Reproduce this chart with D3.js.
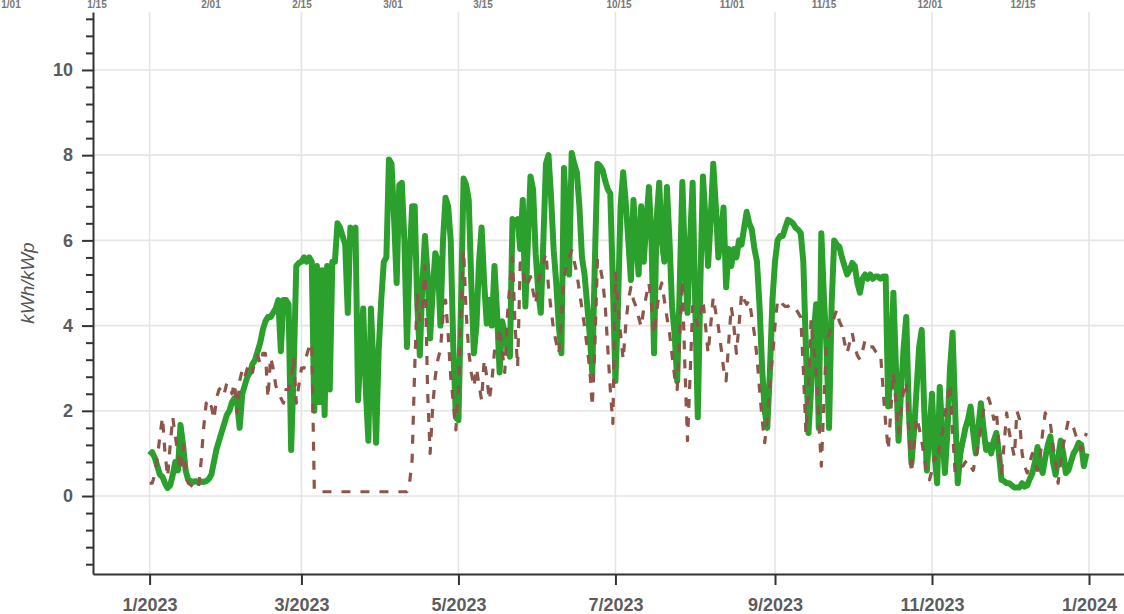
<!DOCTYPE html>
<html>
<head>
<meta charset="utf-8">
<script src="https://cdn.jsdelivr.net/npm/d3@7"></script>
<style>
  body { margin: 0; background: #fff; }
  svg { display: block; }
</style>
</head>
<body>
<div class="yieldChart"></div>
<script>
// daily specific yield, one value per day from 1 Jan 2023
const firstDay = "2023-01-01"

const greenSeries = [
  // jan
  0.96,1.03,0.9,0.7,0.5,0.45,0.3,0.19,0.25,0.5,0.8,0.6,1.67,1.2,0.6,0.38,0.35,0.33,0.35,0.32,0.34,0.33,0.35,0.4,0.5,0.8,1.1,1.3,1.5,1.7,1.9,
  // feb
  2.0,2.2,2.3,2.2,1.6,2.4,2.6,2.8,2.9,3.1,3.2,3.4,3.6,3.9,4.1,4.2,4.2,4.3,4.4,4.6,3.4,4.6,4.6,4.5,1.08,3.0,5.4,5.47,
  // mar
  5.5,5.6,5.5,5.6,5.5,2.0,5.4,2.2,5.3,1.9,5.4,2.5,5.5,5.5,6.4,6.3,6.1,5.9,4.3,6.3,6.2,6.3,2.25,3.5,4.4,2.5,1.3,4.4,3.0,1.25,3.4,
  // apr
  4.6,5.5,5.6,7.9,7.8,6.5,5.0,7.3,7.35,6.0,3.5,5.5,6.8,6.8,4.5,3.3,5.0,6.1,5.2,3.7,4.8,5.7,5.5,4.0,6.0,7.0,6.8,6.0,3.5,1.85,
  // may
  1.78,4.5,7.45,7.3,6.95,5.0,3.35,4.0,5.5,6.3,5.0,4.05,4.6,4.0,5.4,4.3,2.9,4.1,3.8,3.5,3.27,6.5,6.4,6.5,5.8,6.95,4.45,6.0,7.5,7.2,5.7,
  // jun
  4.8,4.3,6.0,7.8,8.0,7.0,5.77,5.0,4.0,3.35,7.7,6.5,5.2,8.05,7.8,7.6,6.8,5.6,5.2,4.5,3.8,2.9,5.5,7.8,7.75,7.65,7.4,7.2,7.1,5.0,
  // jul
  2.7,4.5,6.8,7.6,6.9,6.0,5.07,6.95,6.0,5.2,6.8,5.5,6.4,7.25,6.0,3.35,6.5,7.35,6.0,5.5,7.25,6.0,4.45,3.8,2.7,5.0,7.37,5.5,4.3,6.0,7.35,
  // aug
  4.5,1.85,5.0,7.5,6.5,5.4,6.5,7.8,6.8,5.6,6.2,6.77,4.9,5.8,5.4,5.8,5.6,6.0,5.9,6.3,6.67,6.4,6.25,5.8,5.5,4.45,3.0,2.0,1.6,2.9,4.6,
  // sep
  5.5,6.0,6.1,6.1,6.3,6.48,6.45,6.4,6.3,6.25,6.17,5.5,3.5,1.48,2.5,3.8,4.5,1.6,6.17,4.67,3.5,1.6,4.5,6.0,5.9,5.85,5.6,5.4,5.2,5.3,
  // oct
  5.47,5.4,5.0,4.77,5.1,5.2,5.1,5.2,5.1,5.15,5.15,5.1,5.15,5.15,2.1,3.0,4.77,3.0,1.3,2.5,3.5,4.2,2.0,0.77,1.5,2.5,3.5,3.9,2.0,0.6,1.5,
  // nov
  2.4,1.0,0.3,2.56,1.5,0.54,1.5,3.0,3.83,2.0,0.3,1.0,1.3,1.6,1.8,2.1,1.5,1.0,1.6,2.18,1.6,1.08,1.2,1.0,1.3,1.48,1.0,0.38,0.35,0.3,
  // dec
  0.3,0.25,0.2,0.2,0.2,0.3,0.22,0.25,0.4,0.54,0.8,1.15,0.7,0.54,0.9,1.2,1.4,0.8,0.5,0.9,1.3,1.0,0.54,0.6,0.8,1.0,1.1,1.25,1.2,0.7,1.0
]

const brownSeries = [
  // jan
  0.3,0.3,0.5,0.9,1.4,1.85,1.0,0.45,1.2,1.85,1.4,1.0,0.6,1.2,0.6,0.3,0.26,0.2,0.14,0.2,0.8,1.6,2.18,2.0,2.1,1.8,2.3,2.5,2.56,2.4,2.65,
  // feb
  2.6,2.4,2.65,1.95,2.7,2.96,2.8,3.0,3.1,2.9,3.2,3.3,3.1,3.35,3.35,2.3,3.26,3.0,2.6,2.4,2.3,2.18,2.5,2.5,2.7,3.26,2.18,2.6,
  // mar
  3.0,3.0,3.3,3.5,3.6,0.14,0.1,0.1,0.1,0.1,0.1,0.1,0.1,0.1,0.1,0.1,0.1,0.1,0.1,0.1,0.1,0.1,0.1,0.1,0.1,0.1,0.1,0.1,0.1,0.1,0.1,
  // apr
  0.1,0.1,0.1,0.1,0.1,0.1,0.1,0.1,0.1,0.1,0.1,0.3,0.85,3.0,4.77,4.13,4.5,5.4,2.5,1.0,2.1,2.8,3.2,3.43,4.2,4.6,3.8,2.8,2.2,1.55,
  // may
  2.5,4.3,5.77,4.3,3.4,2.9,2.56,3.0,2.6,2.25,3.2,2.8,2.25,2.7,3.4,3.6,3.97,3.4,2.9,4.2,5.0,5.6,4.0,3.03,5.47,5.3,4.9,5.0,5.15,4.8,4.5,
  // jun
  5.0,5.3,5.5,5.7,4.9,4.37,3.9,3.6,3.35,4.2,5.15,5.4,5.6,5.77,5.5,5.23,4.8,4.4,3.97,3.5,3.0,2.1,3.5,5.54,5.4,5.07,4.5,3.5,2.5,1.7,
  // jul
  5.23,4.5,3.8,3.2,4.0,4.6,4.9,4.6,4.45,4.2,3.97,4.4,4.7,5.0,4.5,3.8,4.3,4.8,5.0,4.6,4.2,3.83,3.3,2.8,2.5,3.8,5.07,3.0,1.3,2.8,4.45,
  // aug
  4.2,4.0,4.3,4.6,4.0,3.35,4.0,4.67,4.3,3.97,3.5,3.0,2.7,3.6,4.45,4.0,3.35,4.0,4.77,4.6,4.5,4.6,4.2,3.8,3.26,2.5,1.8,1.25,1.8,2.6,3.26,
  // sep
  4.0,4.6,4.6,4.5,4.45,4.45,4.5,4.45,4.4,4.3,4.2,3.0,1.48,2.5,4.13,3.5,2.9,1.8,0.7,2.2,3.66,3.8,3.97,4.2,4.37,4.1,3.97,3.6,3.35,3.6,
  // oct
  3.83,3.5,3.3,3.2,3.4,3.66,3.6,3.5,3.5,3.4,3.35,3.35,2.5,1.7,1.08,2.0,2.9,2.2,1.48,2.0,2.5,2.7,1.5,0.54,1.2,1.85,1.6,1.3,0.9,0.5,0.38,
  // nov
  0.6,0.92,0.8,1.2,1.48,1.9,2.3,2.65,1.5,0.54,0.6,0.7,0.7,0.8,0.85,0.7,0.6,0.9,1.2,1.6,2.0,2.2,2.3,2.1,1.8,2.0,1.2,0.54,1.2,1.95,
  // dec
  1.5,1.2,0.92,2.0,1.8,1.0,0.7,0.54,0.8,1.0,0.8,0.6,0.9,1.5,1.95,1.8,1.7,1.2,0.8,0.3,0.8,1.2,1.5,1.78,1.7,1.6,1.4,1.2,1.08,1.3,1.48
]

const xTickDates = ["2023-01-01","2023-03-01","2023-05-01","2023-07-01","2023-09-01","2023-11-01","2024-01-01"]
const yTickValues = [0, 2, 4, 6, 8, 10]
const yLabel = "kWh/kWp"

// stray labels along the top edge
const topLabels = ["1/01","1/15","2/01","2/15","3/01","3/15","10/15","11/01","11/15","12/01","12/15"]
const topLabelX = [11, 97, 211, 302, 393, 483, 619, 732, 824, 930, 1023]

const width = 1124
const height = 614
const plot = { left: 93, right: 1124, top: 12, bottom: 574 }

const parse = d3.utcParse("%Y-%m-%d")
const fmt = d3.utcFormat("%-m/%Y")

const svg = d3.select(".yieldChart").append("svg")
  .attr("width", width).attr("height", height)
  .attr("viewBox", `0 0 ${width} ${height}`)

const day0 = parse(firstDay)
const days = greenSeries.map((_, i) => d3.utcDay.offset(day0, i))

// Jan 1 2023 sits at 149.6px and Jan 1 2024 at 1089px; extend to plot edges
const xBase = d3.scaleUtc().domain([parse("2023-01-01"), parse("2024-01-01")]).range([149.6, 1089])
const xScale = d3.scaleUtc().domain([xBase.invert(plot.left), xBase.invert(plot.right)]).range([plot.left, plot.right])
const yScale = d3.scaleLinear().domain([-1.83, 11.36]).range([plot.bottom, plot.top])

const xTicks = xTickDates.map(parse)

// grid
const grid = svg.append("g").attr("class", "grid")
grid.selectAll(".hgrid").data(yTickValues).enter().append("line")
  .attr("x1", plot.left).attr("x2", plot.right)
  .attr("y1", d => yScale(d)).attr("y2", d => yScale(d))
  .attr("stroke", "#e5e5e5").attr("stroke-width", 1.6)
grid.selectAll(".vgrid").data(xTicks).enter().append("line")
  .attr("x1", d => xScale(d)).attr("x2", d => xScale(d))
  .attr("y1", plot.top).attr("y2", plot.bottom)
  .attr("stroke", "#e5e5e5").attr("stroke-width", 1.6)

// lines
const line = d3.line().x((d, i) => xScale(days[i])).y(d => yScale(d))

svg.append("path")
  .datum(greenSeries)
  .attr("fill", "none")
  .attr("stroke", "#2ca02c")
  .attr("stroke-width", 6)
  .attr("stroke-linejoin", "round")
  .attr("d", line)

svg.append("path")
  .datum(brownSeries)
  .attr("fill", "none")
  .attr("stroke", "#8c564b")
  .attr("stroke-width", 3.2)
  .attr("stroke-dasharray", "9,10")
  .attr("stroke-linejoin", "round")
  .attr("d", line)

// axes
const tickFont = g => g.selectAll("text")
  .attr("font-family", "'Liberation Sans', Arial, sans-serif")
  .attr("font-size", 18)
  .attr("font-weight", "bold")
  .attr("fill", "#5c5c5c")

const yMinor = d3.range(-16, 113, 4).map(v => v / 10).filter(v => !yTickValues.includes(v))

svg.append("g")
  .attr("transform", `translate(${plot.left},0)`)
  .call(d3.axisLeft(yScale).tickValues(yMinor).tickSize(7).tickSizeOuter(0).tickFormat(""))
  .call(g => g.select(".domain").remove())
  .call(g => g.selectAll("line").attr("stroke", "#333").attr("stroke-width", 2))

svg.append("g")
  .attr("transform", `translate(${plot.left},0)`)
  .call(d3.axisLeft(yScale).tickValues(yTickValues).tickSize(11).tickSizeOuter(0).tickPadding(9))
  .call(g => g.select(".domain").attr("stroke", "#333").attr("stroke-width", 2))
  .call(g => g.selectAll("line").attr("stroke", "#333").attr("stroke-width", 2))
  .call(tickFont)

svg.append("g")
  .attr("transform", `translate(0,${plot.bottom})`)
  .call(d3.axisBottom(xScale).tickValues(xTicks).tickSize(11).tickSizeOuter(0).tickPadding(13).tickFormat(fmt))
  .call(g => g.select(".domain").attr("stroke", "#333").attr("stroke-width", 2))
  .call(g => g.selectAll("line").attr("stroke", "#333").attr("stroke-width", 2))
  .call(tickFont)

svg.append("text")
  .attr("transform", `translate(34,${(yScale(4) + yScale(6)) / 2}) rotate(-90)`)
  .attr("text-anchor", "middle")
  .attr("font-family", "'Liberation Sans', Arial, sans-serif")
  .attr("font-style", "italic")
  .attr("font-size", 19)
  .attr("fill", "#555")
  .text(yLabel)

svg.append("g").selectAll("text").data(topLabels).enter().append("text")
  .attr("x", (d, i) => topLabelX[i])
  .attr("y", 8)
  .attr("text-anchor", "middle")
  .attr("font-family", "'Liberation Sans', Arial, sans-serif")
  .attr("font-size", 10)
  .attr("font-weight", "bold")
  .attr("fill", "#777")
  .text(d => d)
</script>
</body>
</html>
